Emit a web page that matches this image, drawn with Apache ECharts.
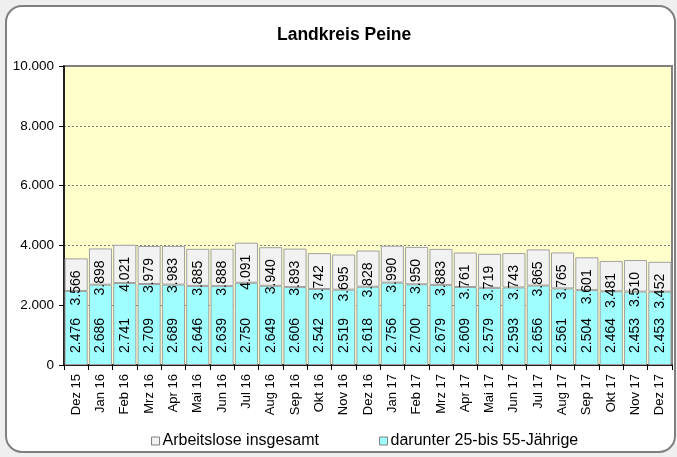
<!DOCTYPE html>
<html>
<head>
<meta charset="utf-8">
<script src="https://cdn.jsdelivr.net/npm/echarts@6/dist/echarts.min.js"></script>
<style>
html,body{margin:0;padding:0;background:#efefef;}
#c{width:677px;height:457px;}
</style>
</head>
<body>
<div id="c"></div>
<script>
var categories = ['Dez 15','Jan 16','Feb 16','Mrz 16','Apr 16','Mai 16','Jun 16','Jul 16','Aug 16','Sep 16','Okt 16','Nov 16','Dez 16','Jan 17','Feb 17','Mrz 17','Apr 17','Mai 17','Jun 17','Jul 17','Aug 17','Sep 17','Okt 17','Nov 17','Dez 17'];
var totalValues = [3566,3898,4021,3979,3983,3885,3888,4091,3940,3893,3742,3695,3828,3990,3950,3883,3761,3719,3743,3865,3765,3601,3481,3510,3452];
var ageValues = [2476,2686,2741,2709,2689,2646,2639,2750,2649,2606,2542,2519,2618,2756,2700,2679,2609,2579,2593,2656,2561,2504,2464,2453,2453];
var yTicks = [0,2000,4000,6000,8000,10000];
var seriesNames = ['Arbeitslose insgesamt','darunter 25-bis 55-Jährige'];

function fmt(v){ return String(v).replace(/\B(?=(\d{3})+(?!\d))/g,'.'); }
var diffValues = totalValues.map(function(t,i){ return t - ageValues[i]; });

var chart = echarts.init(document.getElementById('c'), null, {renderer:'canvas'});
var font = 'Liberation Sans, Arial, sans-serif';
chart.setOption({
  backgroundColor: '#efefef',
  animation: false,
  textStyle: {fontFamily: font},
  graphic: [{
    type: 'rect', z: -10, silent: true,
    shape: {x: 6, y: 6, width: 669, height: 446, r: 16},
    style: {fill: '#ffffff', stroke: '#808080', lineWidth: 2}
  }],
  title: {
    text: 'Landkreis Peine', left: 272, top: 21,
    textStyle: {fontFamily: font, fontSize: 17.5, fontWeight: 'bold', color: '#000'}
  },
  legend: {
    data: seriesNames, left: 151, top: 433, padding: 0,
    icon: 'rect', itemWidth: 8, itemHeight: 8, itemGap: 60,
    itemStyle: {borderColor: '#808080', borderWidth: 1},
    textStyle: {fontFamily: font, fontSize: 16, color: '#000', padding: [0,0,0,-2]}
  },
  grid: {
    left: 64, right: 5, top: 66, bottom: 92, show: true,
    backgroundColor: '#FFFFCC', borderColor: '#808080', borderWidth: 2
  },
  xAxis: {
    type: 'category', data: categories,
    axisLine: {lineStyle: {color: '#000', width: 1.5}},
    axisTick: {show: true, alignWithLabel: false, length: 5, lineStyle: {color: '#000'}},
    axisLabel: {rotate: 90, fontSize: 13, color: '#000', fontFamily: font, margin: 9, interval: 0}
  },
  yAxis: {
    type: 'value', min: yTicks[0], max: yTicks[yTicks.length-1], interval: yTicks[1]-yTicks[0],
    axisLine: {show: true, lineStyle: {color: '#000', width: 1.5}},
    axisTick: {show: true, length: 5, lineStyle: {color: '#000'}},
    axisLabel: {fontSize: 13.5, color: '#000', fontFamily: font, margin: 10, formatter: function(v){ return fmt(v); }},
    splitLine: {show: true, lineStyle: {color: '#808080', width: 1, type: [2,2]}}
  },
  series: [
    {
      name: seriesNames[1], type: 'bar', stack: 'a', data: ageValues,
      barCategoryGap: '5%',
      itemStyle: {color: '#9FFFFF', borderColor: '#A0A0A0', borderWidth: 1},
      label: {
        show: true, position: 'insideBottom', rotate: 90, align: 'left', verticalAlign: 'middle',
        distance: 12, fontSize: 14, color: '#000', fontFamily: font,
        formatter: function(p){ return fmt(p.value); }
      }
    },
    {
      name: seriesNames[0], type: 'bar', stack: 'a', data: diffValues,
      itemStyle: {color: '#F2F2F2', borderColor: '#A0A0A0', borderWidth: 1},
      label: {
        show: true, position: 'insideTop', rotate: 90, align: 'right', verticalAlign: 'middle',
        distance: 12, fontSize: 14, color: '#000', fontFamily: font,
        formatter: function(p){ return fmt(totalValues[p.dataIndex]); }
      }
    }
  ]
});
</script>
</body>
</html>
